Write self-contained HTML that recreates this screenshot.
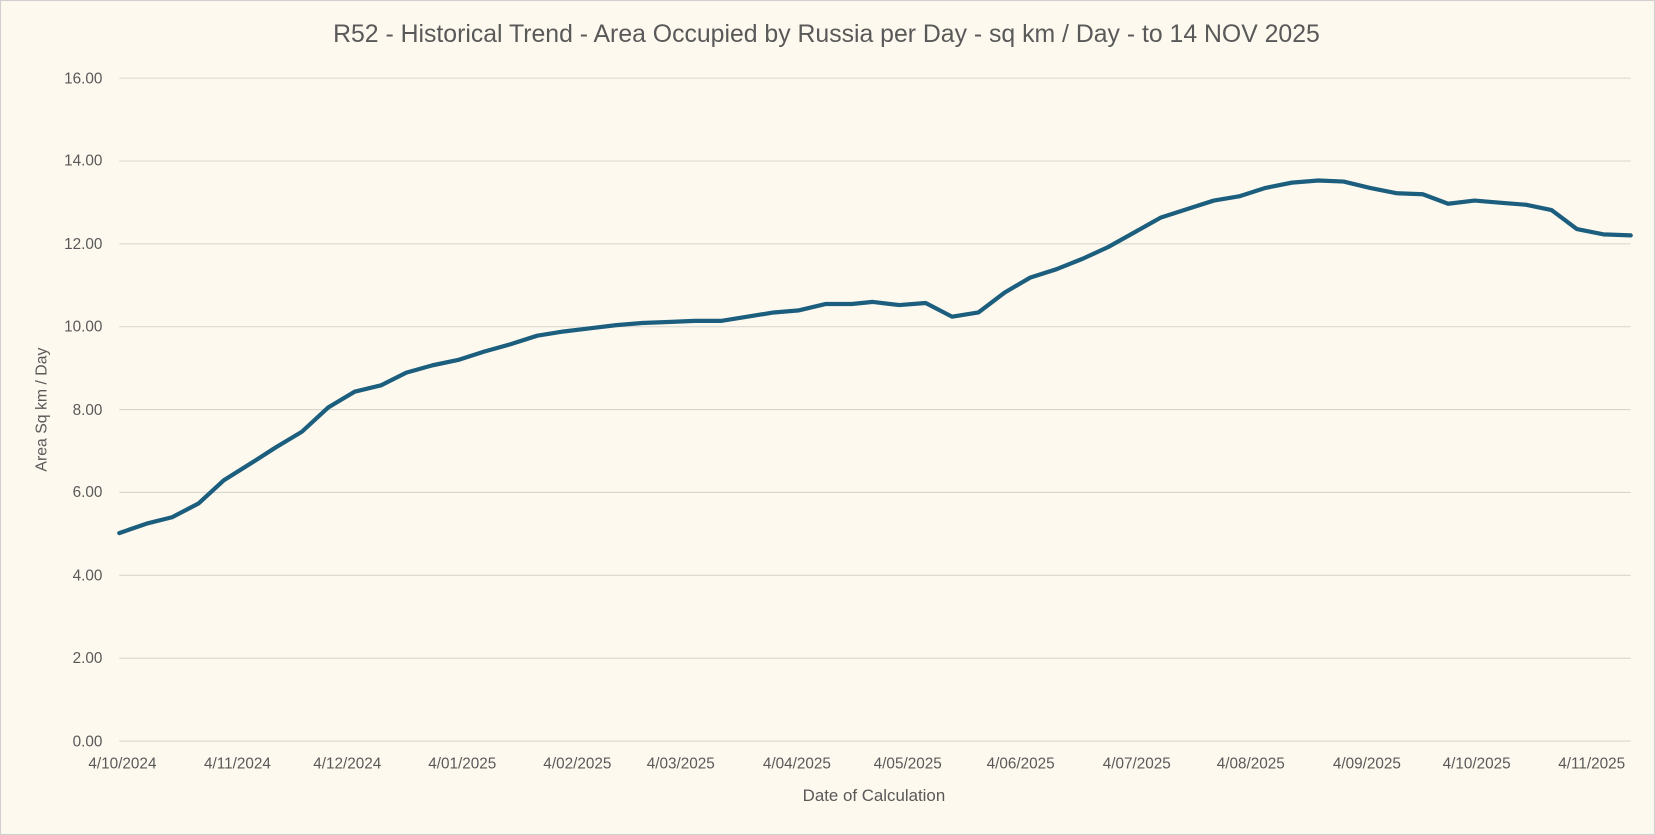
<!DOCTYPE html>
<html><head><meta charset="utf-8"><style>
html,body{margin:0;padding:0;background:#fef9ee;}
svg{display:block;}
text{font-family:"Liberation Sans",sans-serif;fill:#595959;}
</style></head><body>
<svg width="1655" height="835" viewBox="0 0 1568 791" preserveAspectRatio="none" xmlns="http://www.w3.org/2000/svg">
<rect x="0.5" y="0.5" width="1567" height="790" fill="#fef9ee" stroke="#d0d0d0"/>
<text x="783" y="40" text-anchor="middle" font-size="23.5">R52 - Historical Trend - Area Occupied by Russia per Day - sq km / Day - to 14 NOV 2025</text>
<g stroke="#d6d6d0" stroke-width="1">
<line x1="113" x2="1545" y1="74" y2="74"/><line x1="113" x2="1545" y1="152.5" y2="152.5"/>
<line x1="113" x2="1545" y1="231" y2="231"/><line x1="113" x2="1545" y1="309.5" y2="309.5"/>
<line x1="113" x2="1545" y1="388" y2="388"/><line x1="113" x2="1545" y1="466.5" y2="466.5"/>
<line x1="113" x2="1545" y1="545" y2="545"/><line x1="113" x2="1545" y1="623.5" y2="623.5"/>
<line x1="113" x2="1545" y1="702" y2="702"/>
</g>
<g font-size="14.5" text-anchor="end">
<text x="97" y="79">16.00</text><text x="97" y="157">14.00</text><text x="97" y="236">12.00</text>
<text x="97" y="314">10.00</text><text x="97" y="393">8.00</text><text x="97" y="471">6.00</text>
<text x="97" y="550">4.00</text><text x="97" y="628">2.00</text><text x="97" y="707">0.00</text>
</g>
<g font-size="14.5" text-anchor="middle">
<text x="116" y="728">4/10/2024</text><text x="225" y="728">4/11/2024</text><text x="329" y="728">4/12/2024</text>
<text x="438" y="728">4/01/2025</text><text x="547" y="728">4/02/2025</text><text x="645" y="728">4/03/2025</text>
<text x="755" y="728">4/04/2025</text><text x="860" y="728">4/05/2025</text><text x="967" y="728">4/06/2025</text>
<text x="1077" y="728">4/07/2025</text><text x="1185" y="728">4/08/2025</text><text x="1295" y="728">4/09/2025</text>
<text x="1399" y="728">4/10/2025</text><text x="1508" y="728">4/11/2025</text>
</g>
<text x="828" y="759" text-anchor="middle" font-size="16">Date of Calculation</text>
<text transform="translate(44,388) rotate(-90)" text-anchor="middle" font-size="15">Area Sq km / Day</text>
<polyline fill="none" stroke="#1c5e7e" stroke-width="4" stroke-linejoin="round" stroke-linecap="round" points="113,505 139,496 163,490 188,477 212,455 236,440 261,424 286,409 311,386 336,371 361,365 385,353 410,346 434,341 459,333 484,326 509,318 534,314 559,311 584,308 608,306 633,305 658,304 683,304 708,300 733,296 757,294 782,288 807,288 827,286 852,289 877,287 902,300 927,296 952,277 976,263 1001,255 1026,245 1050,234 1075,220 1100,206 1125,198 1150,190 1174,186 1199,178 1224,173 1249,171 1273,172 1298,178 1323,183 1348,184 1372,193 1397,190 1421,192 1446,194 1470,199 1494,217 1519,222 1545,223"/>
</svg>
</body></html>
